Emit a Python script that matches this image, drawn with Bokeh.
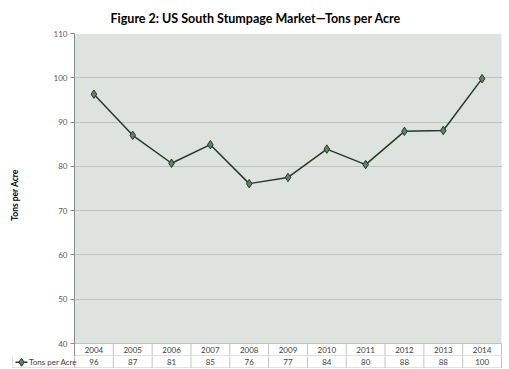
from bokeh.plotting import figure
from bokeh.layouts import column, row
from bokeh.models import Range1d, FixedTicker, ColumnDataSource, BoxAnnotation
from bokeh.core.properties import value
from bokeh.embed import file_html
from bokeh.resources import INLINE

years = ["2004", "2005", "2006", "2007", "2008", "2009", "2010", "2011", "2012", "2013", "2014"]
tons = [96.3, 87.0, 80.7, 84.9, 76.1, 77.5, 83.9, 80.4, 87.9, 88.1, 99.8]
table_vals = ["96", "87", "81", "85", "76", "77", "84", "80", "88", "88", "100"]
series_name = "Tons per Acre"
y_ticks = [40, 50, 60, 70, 80, 90, 100, 110]

FONT = "Lato"
LINE = "#243a28"
MARK_FILL = "#63806b"
GRID = "#bfc3bf"
BG = "#dfe3df"
TXT = "#404040"

idx = list(range(len(years)))
n = len(years)

# layout geometry (pixels)
plot_w = 427          # width of the grey plot area
plot_h = 310          # height of the grey plot area
row_h = 13            # year row height
val_h = 12            # value row height
legend_w = 62         # legend cell width in the table
y_min, y_max = y_ticks[0], y_ticks[-1]

px_per_x = plot_w / n
px_per_y = plot_h / (y_max - y_min)
x_lo, x_hi = -0.5, n - 0.5
x_hi_ext = x_hi + 1.0 / px_per_x
y_lo_ext = y_min - row_h / px_per_y
year_row_y = y_min - (row_h / 2) / px_per_y
year_row_bot = y_min - (row_h - 0.5) / px_per_y

src = ColumnDataSource(dict(x=idx, y=tons, year=years, val=table_vals,
                            yr_y=[year_row_y] * n))

p = figure(width=74 + plot_w + 1, height=0, output_backend="svg", toolbar_location=None,
           x_range=Range1d(x_lo, x_hi_ext), y_range=Range1d(y_lo_ext, y_max),
           min_border_left=74, min_border_right=0, min_border_bottom=0, min_border_top=32,
           frame_width=plot_w + 1, frame_height=plot_h + row_h,
           title="Figure 2: US South Stumpage Market\u2014Tons per Acre")
p.title.text_font = FONT
p.title.text_font_size = "12.5px"
p.title.text_font_style = "bold"
p.title.text_color = "#000000"
p.title.align = "left"
p.title.offset = 36
p.title.standoff = 16
p.background_fill_color = "white"
p.border_fill_color = "white"
p.outline_line_color = None
p.add_layout(BoxAnnotation(left=x_lo, right=x_hi, bottom=y_min, top=y_max,
                           fill_color=BG, fill_alpha=1.0, line_color=None, level="image"))
p.xaxis.visible = False
p.xgrid.visible = False
p.ygrid.ticker = FixedTicker(ticks=y_ticks[1:])
p.ygrid.grid_line_color = GRID
p.ygrid.grid_line_width = 1
yax = p.yaxis[0]
yax.ticker = FixedTicker(ticks=y_ticks)
yax.axis_line_color = "#8a8a8a"
yax.major_tick_line_color = "#8a8a8a"
yax.major_tick_out = 4
yax.major_tick_in = 0
yax.minor_tick_line_color = None
yax.major_label_text_font = FONT
yax.major_label_text_font_size = "8px"
yax.major_label_text_color = "#595959"
yax.major_label_standoff = 3
yax.axis_label = series_name
yax.axis_label_text_font = FONT
yax.axis_label_text_font_size = "8.5px"
yax.axis_label_text_font_style = "bold"
yax.axis_label_text_color = "#000000"
yax.axis_label_standoff = 31

# year row of the data table (inside the main frame, below the grey area)
edges = [i - 0.5 for i in range(n + 1)]
p.segment(x0=edges, y0=[year_row_bot] * len(edges), x1=edges, y1=[y_min] * len(edges),
          line_color=GRID, line_width=1)
p.segment(x0=[x_lo, x_lo], y0=[y_min, year_row_bot], x1=[x_hi, x_hi], y1=[y_min, year_row_bot],
          line_color=GRID, line_width=1)
p.text("x", "yr_y", text="year", source=src, text_align="center", text_baseline="middle",
       text_font=value(FONT), text_font_size="8px", text_color=TXT)

p.line("x", "y", source=src, line_color=LINE, line_width=1.5)
p.scatter("x", "y", source=src, marker="diamond", size=8.5, fill_color=MARK_FILL,
          line_color=LINE, line_width=1)

# value row of the data table with legend key
x_lo_tab = x_lo - legend_w / px_per_x
t = figure(width=12 + legend_w + plot_w + 1, height=0, output_backend="svg", toolbar_location=None,
           x_range=Range1d(x_lo_tab, x_hi_ext), y_range=Range1d(-0.5 / val_h, 1.0),
           min_border_left=12, min_border_right=0, min_border_top=0, min_border_bottom=0,
           frame_width=legend_w + plot_w + 1, frame_height=val_h)
t.axis.visible = False
t.grid.visible = False
t.outline_line_color = None
t.background_fill_color = "white"

t.segment(x0=edges + [x_lo_tab], y0=[0] * (n + 2), x1=edges + [x_lo_tab], y1=[1] * (n + 2),
          line_color=GRID, line_width=1)
t.segment(x0=[x_lo_tab], y0=[0], x1=[x_hi], y1=[0], line_color=GRID, line_width=1)
t.text("x", 0.5, text="val", source=src, text_align="center", text_baseline="middle",
       text_font=value(FONT), text_font_size="8px", text_color=TXT)

lx0 = x_lo_tab + 3 / px_per_x
lx1 = x_lo_tab + 15 / px_per_x
t.segment(x0=[lx0], y0=[0.5], x1=[lx1], y1=[0.5], line_color=LINE, line_width=1.5)
t.scatter([(lx0 + lx1) / 2], [0.5], marker="diamond", size=8, fill_color=MARK_FILL,
          line_color=LINE, line_width=1)
t.text([lx1 + 1.5 / px_per_x], [0.5], text=[series_name], text_align="left", text_baseline="middle",
       text_font=value(FONT), text_font_size="8px", text_color=TXT)

layout = column(row(p), row(t), spacing=0)
open("out.html", "w").write(file_html(layout, INLINE))
